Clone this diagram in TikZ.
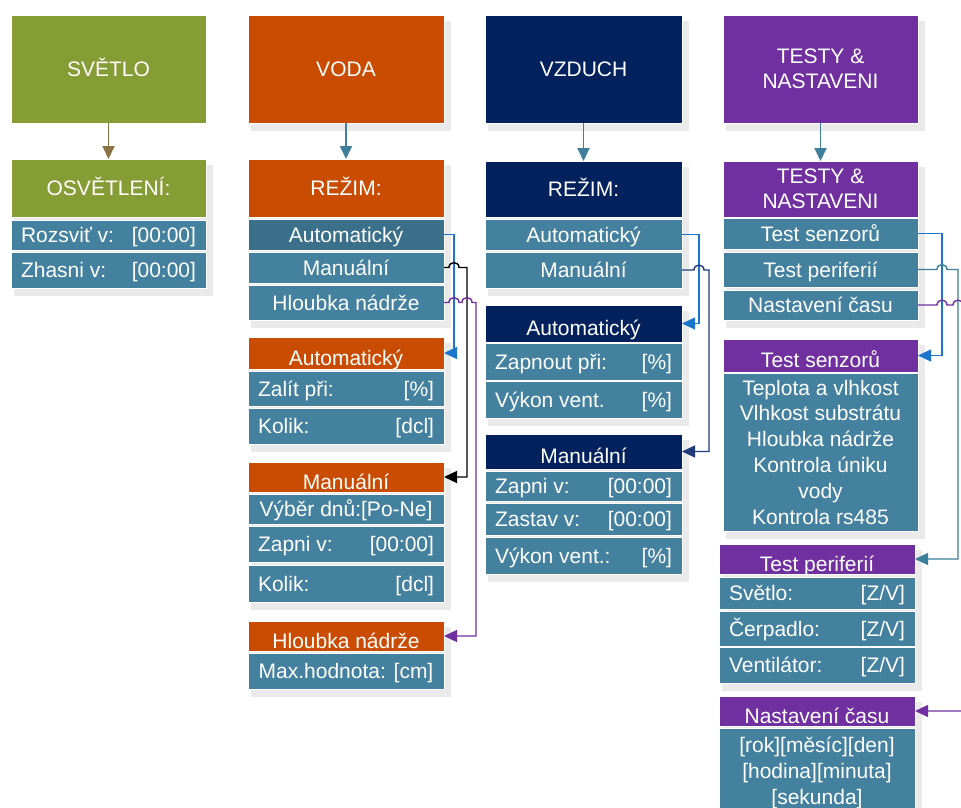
\documentclass[tikz,border=0pt]{standalone}
\usepackage{fontspec}
\newfontfamily\boxfont{Liberation Sans}
\usetikzlibrary{arrows.meta}

\definecolor{leaf}{HTML}{869C35}
\definecolor{rust}{HTML}{C94C02}
\definecolor{ink}{HTML}{03215D}
\definecolor{plum}{HTML}{7030A0}
\definecolor{slate}{HTML}{43819F}
\definecolor{slatedk}{HTML}{3A7089}
\definecolor{linkblue}{HTML}{1C75CC}
\definecolor{linknavy}{HTML}{1F3B7C}
\definecolor{linkteal}{HTML}{3A7F98}
\definecolor{stem}{HTML}{3E7F9B}
\definecolor{stembrown}{HTML}{8C7142}
\definecolor{shadowgray}{HTML}{EAEAEA}

% box from (x1,y1) to (x2,y2), y growing downwards
\newcommand\bx[7]{%
  \node[#6, minimum width={(#4-#2)*1pt}, minimum height={(#5-#3)*1pt}]
    (#1) at ({(#2+#4)/2},{(#3+#5)/2}) {#7};}
% row with a label on the left and a value on the right
\newcommand\lr[8]{%
  \bx{#1}{#2}{#3}{#4}{#5}{#6}{}%
  \node[txt, anchor=west] (#1L) at ([xshift=10pt]#1.west) {#7};%
  \node[txt, anchor=east] (#1R) at ([xshift=-10pt]#1.east) {#8};}
% soft shadow behind a block
\newcommand\shadowbox[4]{\fill[shadowgray] ({#1+3},{#2+6}) rectangle ({#3+7},{#4+8});}

\tikzset{
  base/.style={rectangle, inner sep=0pt, outer sep=0pt, draw=white, line width=0.6pt,
    text=white, font=\boxfont\fontsize{21}{25}\selectfont},
  title/.style={base, text height=15pt, text depth=0pt},
  hdr/.style={base, text height=24pt, text depth=0pt},
  row/.style={base, fill=slate, text height=15pt, text depth=0pt},
  multi/.style={base, align=center},
  txt/.style={inner sep=0pt, outer sep=0pt, text=white,
    font=\boxfont\fontsize{21}{25}\selectfont, text height=15pt, text depth=0pt},
  link/.style={line width=1.4pt, -{Triangle[length=13pt,width=12pt]}},
  stemarrow/.style={line width=1.8pt, -{Triangle[length=13pt,width=12pt]}},
}

\begin{document}
\begin{tikzpicture}[x=1pt, y=-1pt]
\useasboundingbox (0,0) rectangle (961,808);
\clip (0,0) rectangle (961,808);
\fill[white] (0,0) rectangle (961,808);

% shadows
\shadowbox{248}{15}{444}{123}
\shadowbox{485}{15}{682}{123}
\shadowbox{723}{15}{918}{123}
\shadowbox{11}{159}{206}{288}
\shadowbox{248}{159}{444}{320}
\shadowbox{248}{337}{444}{444}
\shadowbox{248}{462}{444}{602}
\shadowbox{248}{621}{444}{689}
\shadowbox{485}{161}{682}{288}
\shadowbox{485}{305}{682}{418}
\shadowbox{485}{434}{682}{574}
\shadowbox{723}{161}{918}{320}
\shadowbox{723}{339}{918}{531}
\shadowbox{719}{544}{915}{683}
\shadowbox{719}{696}{915}{818}

% SVETLO
\bx{svetlo}{11}{15}{206}{123}{title, fill=leaf}{SVĚTLO}
\bx{osv}{11}{159}{206}{217}{title, fill=leaf}{OSVĚTLENÍ:}
\lr{osvA}{11}{220}{206}{250}{row}{Rozsviť v:}{[00:00]}
\lr{osvB}{11}{252}{206}{288}{row}{Zhasni v:}{[00:00]}

% VODA
\bx{voda}{248}{15}{444}{123}{title, fill=rust}{VODA}
\bx{vRez}{248}{159}{444}{217}{title, fill=rust}{REŽIM:}
\bx{vR1}{248}{219}{444}{250}{row, fill=slatedk}{Automatický}
\bx{vR2}{248}{252}{444}{283}{row}{Manuální}
\bx{vR3}{248}{285}{444}{320}{row}{Hloubka nádrže}
\bx{vAuto}{248}{337}{444}{369}{hdr, fill=rust}{Automatický}
\lr{vA1}{248}{371}{444}{406}{row}{Zalít při:}{[\%]}
\lr{vA2}{248}{408}{444}{444}{row}{Kolik:}{[dcl]}
\bx{vMan}{248}{462}{444}{492}{hdr, fill=rust}{Manuální}
\bx{vM1}{248}{494}{444}{524}{row}{Výběr dnů:[Po-Ne]}
\lr{vM2}{248}{526}{444}{562}{row}{Zapni v:}{[00:00]}
\lr{vM3}{248}{565}{444}{602}{row}{Kolik:}{[dcl]}
\bx{vHl}{248}{621}{444}{651}{hdr, fill=rust}{Hloubka nádrže}
\bx{vH1}{248}{653}{444}{689}{row}{Max.hodnota: [cm]}

% VZDUCH
\bx{vzduch}{485}{15}{682}{123}{title, fill=ink}{VZDUCH}
\bx{zRez}{485}{161}{682}{217}{title, fill=ink}{REŽIM:}
\bx{zR1}{485}{219}{682}{250}{row}{Automatický}
\bx{zR2}{485}{252}{682}{288}{row}{Manuální}
\bx{zAuto}{485}{305}{682}{342}{hdr, fill=ink}{Automatický}
\lr{zA1}{485}{343}{682}{380}{row}{Zapnout při:}{[\%]}
\lr{zA2}{485}{381}{682}{418}{row}{Výkon vent.}{[\%]}
\bx{zMan}{485}{434}{682}{469}{hdr, fill=ink}{Manuální}
\lr{zM1}{485}{471}{682}{501}{row}{Zapni v:}{[00:00]}
\lr{zM2}{485}{503}{682}{535}{row}{Zastav v:}{[00:00]}
\lr{zM3}{485}{537}{682}{574}{row}{Výkon vent.:}{[\%]}

% TESTY & NASTAVENI
\bx{testy}{723}{15}{918}{123}{multi, fill=plum}{TESTY \&\\NASTAVENI}
\bx{tHdr}{723}{161}{918}{217}{multi, fill=plum}{TESTY \&\\NASTAVENI}
\bx{tR1}{723}{218}{918}{249}{row}{Test senzorů}
\bx{tR2}{723}{252}{918}{287}{row}{Test periferií}
\bx{tR3}{723}{290}{918}{320}{row}{Nastavení času}
\bx{tSen}{723}{339}{918}{372}{hdr, fill=plum}{Test senzorů}
\bx{tS1}{723}{373}{918}{531}{multi, fill=slate, font=\boxfont\fontsize{21}{25.8}\selectfont}%
  {Teplota a vlhkost\\Vlhkost substrátu\\Hloubka nádrže\\Kontrola úniku\\vody\\Kontrola rs485}
\bx{tPer}{719}{544}{915}{574}{hdr, fill=plum}{Test periferií}
\lr{tP1}{719}{577}{915}{609}{row}{Světlo:}{[Z/V]}
\lr{tP2}{719}{611}{915}{646}{row}{Čerpadlo:}{[Z/V]}
\lr{tP3}{719}{647}{915}{683}{row}{Ventilátor:}{[Z/V]}
\bx{tNas}{719}{696}{915}{726}{hdr, fill=plum}{Nastavení času}
\bx{tN1}{719}{728}{915}{818}{multi, fill=slate, font=\boxfont\fontsize{21}{26}\selectfont}%
  {{[rok][měsíc][den]}\\{}{[hodina][minuta]}\\{}{[sekunda]}}

% stems from the titles
\draw[stemarrow, stembrown] (svetlo.south) -- (osv.north);
\draw[stemarrow, stem] (voda.south) -- (vRez.north);
\draw[stemarrow, stem] (vzduch.south) -- (zRez.north);
\draw[stemarrow, stem] (testy.south) -- (tHdr.north);

% VODA links
\draw[link, linkblue] (vR1.east) -- (454,234.5) |- (vAuto.east);
\draw[link, black] (vR2.east) -- (449,267.5)
  .. controls (449,261) and (459,261) .. (459,267.5) -- (467,267.5) |- (vMan.east);
\draw[link, plum] (vR3.east) -- (449,302.5)
  .. controls (449,296) and (459,296) .. (459,302.5) -- (462,302.5)
  .. controls (462,296) and (472,296) .. (472,302.5) -- (476,302.5) |- (vHl.east);

% VZDUCH links
\draw[link, linkblue] (zR1.east) -- (699,234.5) |- (zAuto.east);
\draw[link, linknavy] (zR2.east) -- (694,270)
  .. controls (694,263.5) and (704,263.5) .. (704,270) -- (709,270) |- (zMan.east);

% TESTY links
\draw[link, linkblue] (tR1.east) -- (942,233.5) |- (tSen.east);
\draw[link, linkteal] (tR2.east) -- (937,269.5)
  .. controls (937,263) and (947,263) .. (947,269.5) -- (958,269.5) |- (tPer.east);
\draw[link, plum] (tR3.east) -- (937,305)
  .. controls (937,298.5) and (947,298.5) .. (947,305) -- (953,305)
  .. controls (953,298.5) and (963,298.5) .. (963,305) -- (980,305) |- (tNas.east);
\end{tikzpicture}
\end{document}
